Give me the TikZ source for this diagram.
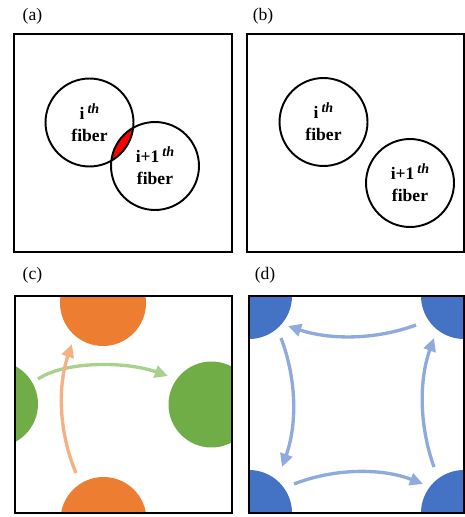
\documentclass[tikz,border=0pt]{standalone}
\usepackage{fontspec}
\setmainfont{Liberation Serif}
\usetikzlibrary{arrows.meta}

\definecolor{fibOrange}{HTML}{ED7D31}
\definecolor{fibGreen}{HTML}{70AD47}
\definecolor{fibBlue}{HTML}{4472C4}
\definecolor{arrOrange}{HTML}{F4B183}
\definecolor{arrGreen}{HTML}{A9D18E}
\definecolor{arrBlue}{HTML}{8FAADC}

% apice "th" come nel disegno originale
\newcommand{\thsup}{\,\raisebox{0.75ex}{\fontsize{8}{8}\selectfont\itshape th}}

\tikzset{
    fiber/.style={circle, draw, line width=1.1pt, minimum size=1.76cm, inner sep=0pt,
        align=center, font=\bfseries\fontsize{10}{12.5}\selectfont},
    blob/.style={circle, minimum size=1.72cm, inner sep=0pt},
    panel/.style={draw, line width=1.1pt},
    flow/.style={line width=1.9pt, -{Triangle[length=7.5pt,width=7pt]}},
}

\begin{document}
\begin{tikzpicture}[x=0.02cm, y=-0.02cm]
    \useasboundingbox (0,0) rectangle (465,517);

    % --- Pannello (a): fibre sovrapposte ---
    \node (la) at (32.5,16.5) {(a)};
    \draw[panel] (14,34) rectangle (232,252);

    \coordinate (Ca) at (89.5,122.5);
    \coordinate (Cb) at (155,166);

    % zona di sovrapposizione
    \begin{scope}
        \clip (Ca) circle (0.88cm);
        \fill[red] (Cb) circle (0.88cm);
    \end{scope}

    \node[fiber] (ia) at (Ca) {i\thsup\\fiber};
    \node[fiber] (ib) at (Cb) {i+1\thsup\\fiber};

    % --- Pannello (b): fibre separate ---
    \node (lb) at (263,16.5) {(b)};
    \draw[panel] (247,34) rectangle (464,252);

    \node[fiber] (ja) at (323.5,122) {i\thsup\\fiber};
    \node[fiber] (jb) at (410,183) {i+1\thsup\\fiber};

    % --- Pannello (c) ---
    \node (lc) at (32.5,275.5) {(c)};
    \begin{scope}
        \clip (15,296) rectangle (232,513);
        \node[blob, fill=fibOrange] (otop) at (103,303) {};
        \node[blob, fill=fibOrange] (obot) at (103.5,520) {};
        \node[blob, fill=fibGreen] (gleft) at (-5,404) {};
        \node[blob, fill=fibGreen] (gright) at (211.5,404.5) {};
    \end{scope}
    \draw[panel] (15,296) rectangle (232,513);

    \coordinate (gs) at (38,379);
    \coordinate (ge) at (168,376);
    \coordinate (os) at (76,473);
    \coordinate (oe) at (72,344);

    \draw[flow, arrGreen] (gs) .. controls (65,361) and (125,361) .. (ge);
    \draw[flow, arrOrange] (os) .. controls (58,430) and (58,385) .. (oe);

    % --- Pannello (d) ---
    \node (ld) at (265,275.5) {(d)};
    \begin{scope}
        \clip (249,296) rectangle (464,513);
        \node[blob, fill=fibBlue] (btl) at (249,296) {};
        \node[blob, fill=fibBlue] (btr) at (464,296) {};
        \node[blob, fill=fibBlue] (bbl) at (249,513) {};
        \node[blob, fill=fibBlue] (bbr) at (464,513) {};
    \end{scope}
    \draw[panel] (249,296) rectangle (464,513);

    \coordinate (t1) at (416,325);
    \coordinate (t2) at (288,326);
    \coordinate (l1) at (281,338);
    \coordinate (l2) at (282,467);
    \coordinate (b1) at (294,484);
    \coordinate (b2) at (423,484);
    \coordinate (r1) at (434,467);
    \coordinate (r2) at (434,338);

    \draw[flow, arrBlue] (t1) .. controls (375,340) and (330,340) .. (t2);
    \draw[flow, arrBlue] (l1) .. controls (297,380) and (297,425) .. (l2);
    \draw[flow, arrBlue] (b1) .. controls (335,468) and (382,468) .. (b2);
    \draw[flow, arrBlue] (r1) .. controls (419,425) and (419,380) .. (r2);
\end{tikzpicture}
\end{document}
